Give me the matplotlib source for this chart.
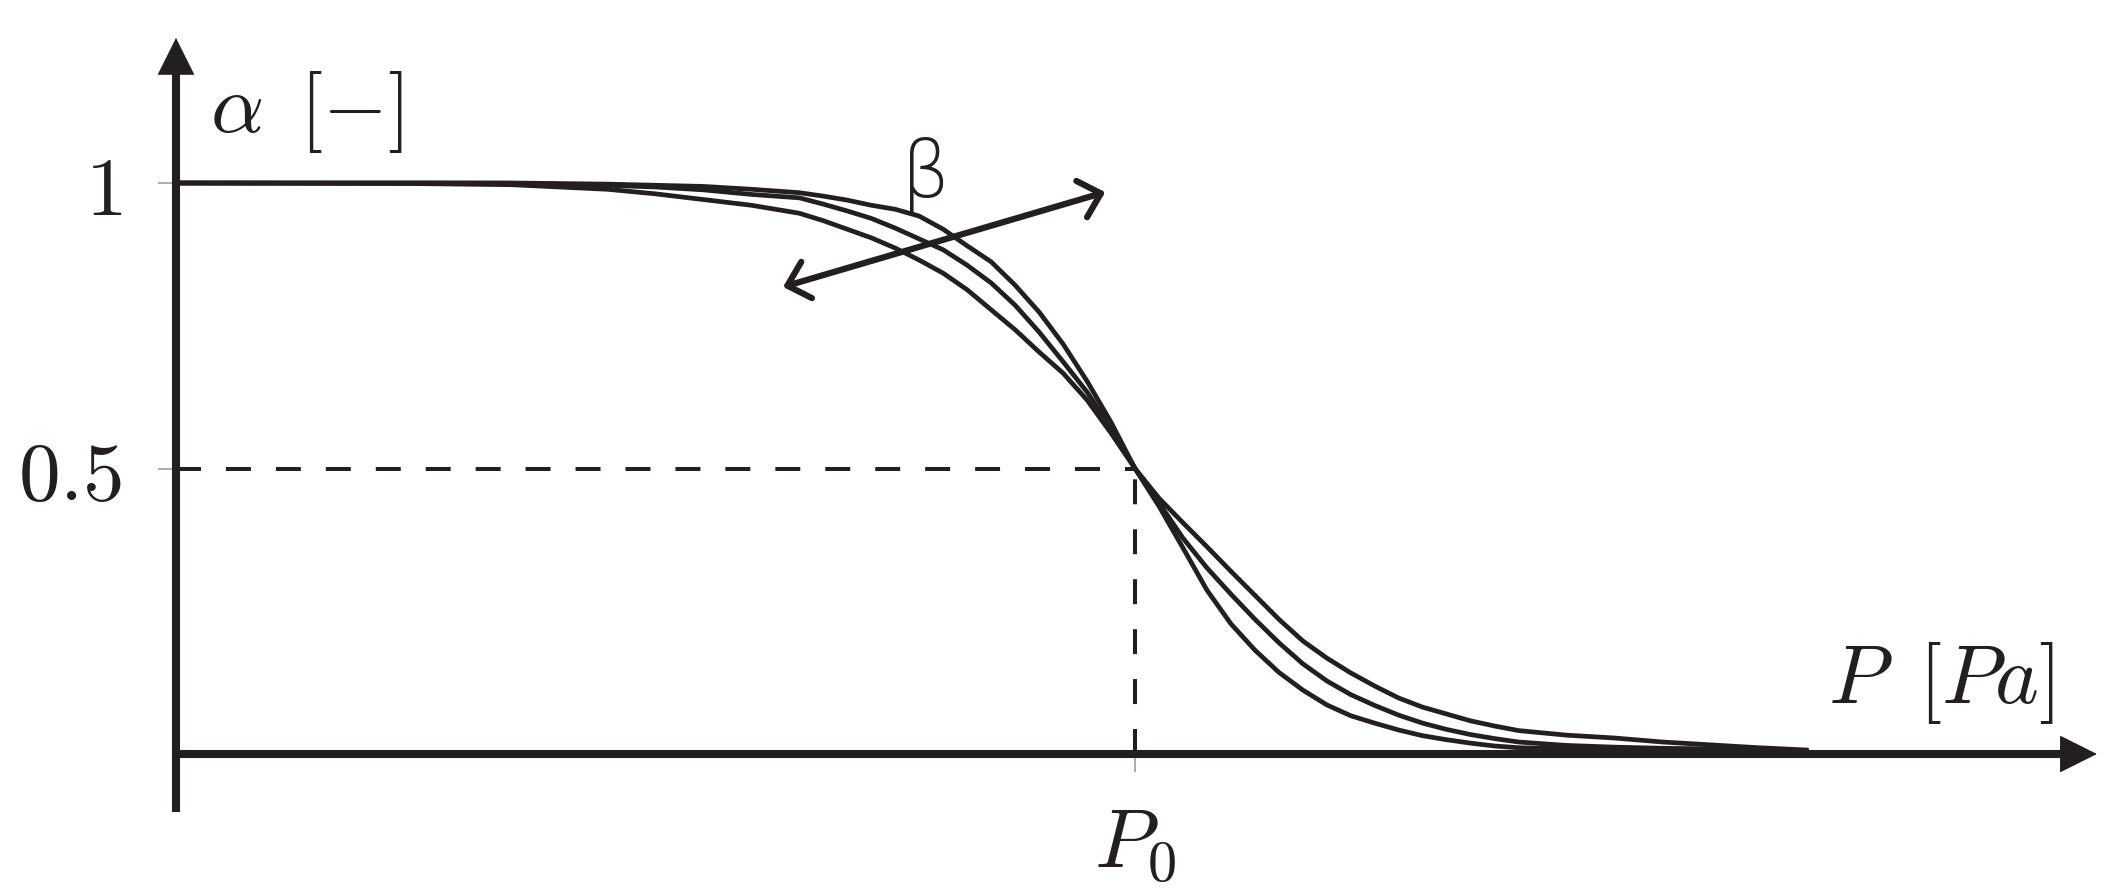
import matplotlib.pyplot as plt

plt.rcParams['mathtext.fontset'] = 'cm'
plt.rcParams['font.family'] = ['DejaVu Sans']

ink = '#231f20'

# pressure in units of P0, alpha for three values of beta
p = [0.0, 0.25, 0.35, 0.45, 0.50, 0.55, 0.60,
     0.65, 0.675, 0.70, 0.725, 0.75, 0.775, 0.80, 0.825, 0.85, 0.875, 0.90, 0.925, 0.95, 0.975, 1.0,
     1.025, 1.05, 1.075, 1.10, 1.125, 1.15, 1.175, 1.20, 1.225, 1.25, 1.275, 1.30, 1.325, 1.35, 1.375, 1.40,
     1.45, 1.50, 1.55, 1.60, 1.65, 1.70]
alpha_steep = [1.0, 1.0, 1.0, 0.998, 0.996, 0.994, 0.989,
               0.983, 0.977, 0.970, 0.961, 0.954, 0.942, 0.919, 0.890, 0.862, 0.821, 0.774, 0.718, 0.653, 0.581, 0.5,
               0.434, 0.361, 0.287, 0.228, 0.182, 0.143, 0.112, 0.086, 0.067, 0.054, 0.042, 0.032, 0.025, 0.019, 0.014, 0.011,
               0.009, 0.007, 0.005, 0.005, 0.004, 0.003]
alpha_mid = [1.0, 1.0, 0.9995, 0.996, 0.993, 0.988, 0.980,
             0.974, 0.963, 0.951, 0.938, 0.921, 0.902, 0.883, 0.856, 0.825, 0.786, 0.739, 0.687, 0.634, 0.571, 0.5,
             0.440, 0.378, 0.326, 0.280, 0.236, 0.195, 0.158, 0.128, 0.104, 0.085, 0.068, 0.054, 0.043, 0.034, 0.027, 0.021,
             0.015, 0.012, 0.010, 0.009, 0.007, 0.005]
alpha_flat = [1.0, 0.999, 0.997, 0.989, 0.981, 0.971, 0.961,
              0.947, 0.934, 0.919, 0.904, 0.886, 0.865, 0.842, 0.813, 0.778, 0.743, 0.704, 0.667, 0.620, 0.562, 0.5,
              0.448, 0.405, 0.363, 0.320, 0.278, 0.236, 0.198, 0.168, 0.142, 0.119, 0.098, 0.082, 0.070, 0.058, 0.049, 0.041,
              0.033, 0.028, 0.021, 0.016, 0.011, 0.007]

p0 = 1.0
alpha_half = 0.5
yticks = [0.5, 1.0]
ytick_labels = [r'$0.5$', r'$1$']

fig = plt.figure(figsize=(21.24, 8.92), dpi=100)
ax = fig.add_axes([176 / 2124, 138 / 892, 1918 / 2124, 713.75 / 892])
ax.set_xlim(0, 2.0)
ax.set_ylim(0, 1.25)
for s in ax.spines.values():
    s.set_visible(False)

# dashed guides at P0
ax.plot([0, p0], [alpha_half, alpha_half], color=ink, lw=2.9, ls=(0, (6.2, 6.2)))
ax.plot([p0, p0], [0, alpha_half], color=ink, lw=2.9, ls=(0, (6.2, 6.2)))

for a in (alpha_steep, alpha_mid, alpha_flat):
    ax.plot(p, a, color=ink, lw=3.4, clip_on=False, solid_joinstyle='round')

# axes with arrow heads
head = dict(arrowstyle='-|>,head_length=1.8,head_width=0.9', mutation_scale=14,
            lw=0.8, color=ink, shrinkA=0, shrinkB=0)
ax.plot([0, 1.97], [0, 0], color=ink, lw=5.8, clip_on=False, solid_capstyle='butt')
ax.annotate('', xy=(2.003, 0), xytext=(1.95, 0), arrowprops=head, annotation_clip=False)
ax.plot([0, 0], [-0.1016, 1.22], color=ink, lw=5.8, clip_on=False, solid_capstyle='butt')
ax.annotate('', xy=(0, 1.254), xytext=(0, 1.2), arrowprops=head, annotation_clip=False)

# beta arrow
ax.annotate('', xy=(0.969, 0.984), xytext=(0.633, 0.818),
            arrowprops=dict(arrowstyle='<->,head_length=0.72,head_width=0.68',
                            mutation_scale=20, lw=4.5, color=ink, shrinkA=0, shrinkB=0))
ax.text(0.782, 1.014, 'β', fontsize=56, ha='center', va='center', color=ink,
        family='DejaVu Sans', fontweight='ultralight')

ax.set_xticks([p0])
ax.set_xticklabels([r'$P_0$'])
ax.set_yticks(yticks)
ax.set_yticklabels(ytick_labels)
ax.tick_params(length=13, width=1.2, color='#9d9d9d', labelsize=60, labelcolor=ink)
ax.tick_params(axis='x', pad=22)
ax.tick_params(axis='y', pad=26)

ax.text(0.0355, 1.124, r'$\alpha\ \,[-]$', fontsize=60, ha='left', va='center', color=ink)
ax.text(1.958, 0.125, r'$P\ \,[Pa]$', fontsize=60, ha='right', va='center', color=ink)

fig.savefig('out.png', dpi=100)
